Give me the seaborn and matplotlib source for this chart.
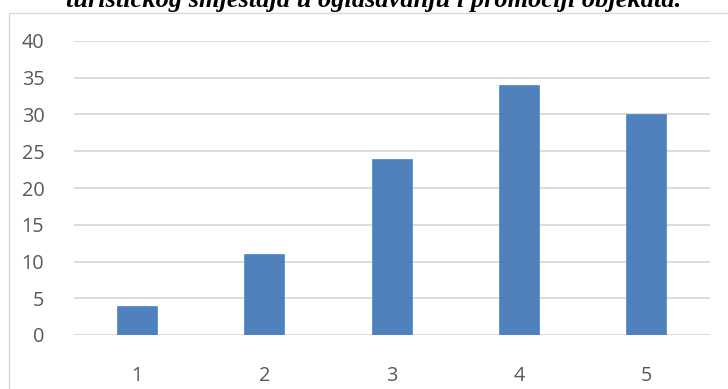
import matplotlib
matplotlib.use("Agg")
import matplotlib.pyplot as plt
import seaborn as sns
import pandas as pd
from matplotlib.patches import Rectangle

categories = ["1", "2", "3", "4", "5"]
values = [4, 11, 24, 34, 30]
yticks = [0, 5, 10, 15, 20, 25, 30, 35, 40]
title = "turističkog smještaja u oglašavanju i promociji objekata."

sns.set_theme(style="white")
plt.rcParams['font.family'] = ['Open Sans', 'DejaVu Sans']

W, H = 728, 389
fig = plt.figure(figsize=(W / 100, H / 100), dpi=100)
ax = fig.add_axes([73.5 / W, 1 - 335 / H, (709.6 - 73.5) / W, (335 - 41) / H])

df = pd.DataFrame({"cat": categories, "val": values})
sns.barplot(data=df, x="cat", y="val", color="#4F81BD", width=0.315,
            saturation=1, ax=ax, edgecolor="#5B8DC9", linewidth=0.6, zorder=3)

ax.set_ylim(0, 40)
ax.set_xlim(-0.5, 4.5)
ax.set_yticks(yticks)
ax.set_yticklabels([str(t) for t in yticks])
ax.set_xlabel("")
ax.set_ylabel("")
for s in ax.spines.values():
    s.set_visible(False)
ax.yaxis.grid(True, color="#d9d9d9", linewidth=1.3, zorder=0)
ax.set_axisbelow(True)
ax.tick_params(axis="both", length=0, labelsize=14.3, colors="#595959")
ax.tick_params(axis="y", pad=21)
ax.tick_params(axis="x", pad=22)

# chart border
fig.patches.append(Rectangle((9 / W, -0.05), 1.1, 1 - 13 / H + 0.05,
                             transform=fig.transFigure, fill=False,
                             edgecolor="#d9d9d9", linewidth=1.0))

fig.text(374 / W, 1 - 7 / H, title, ha="center", va="baseline",
         fontsize=19, fontweight="bold", fontstyle="italic",
         family=["Liberation Serif", "DejaVu Serif"], color="black")

fig.savefig("out.png", dpi=100)
